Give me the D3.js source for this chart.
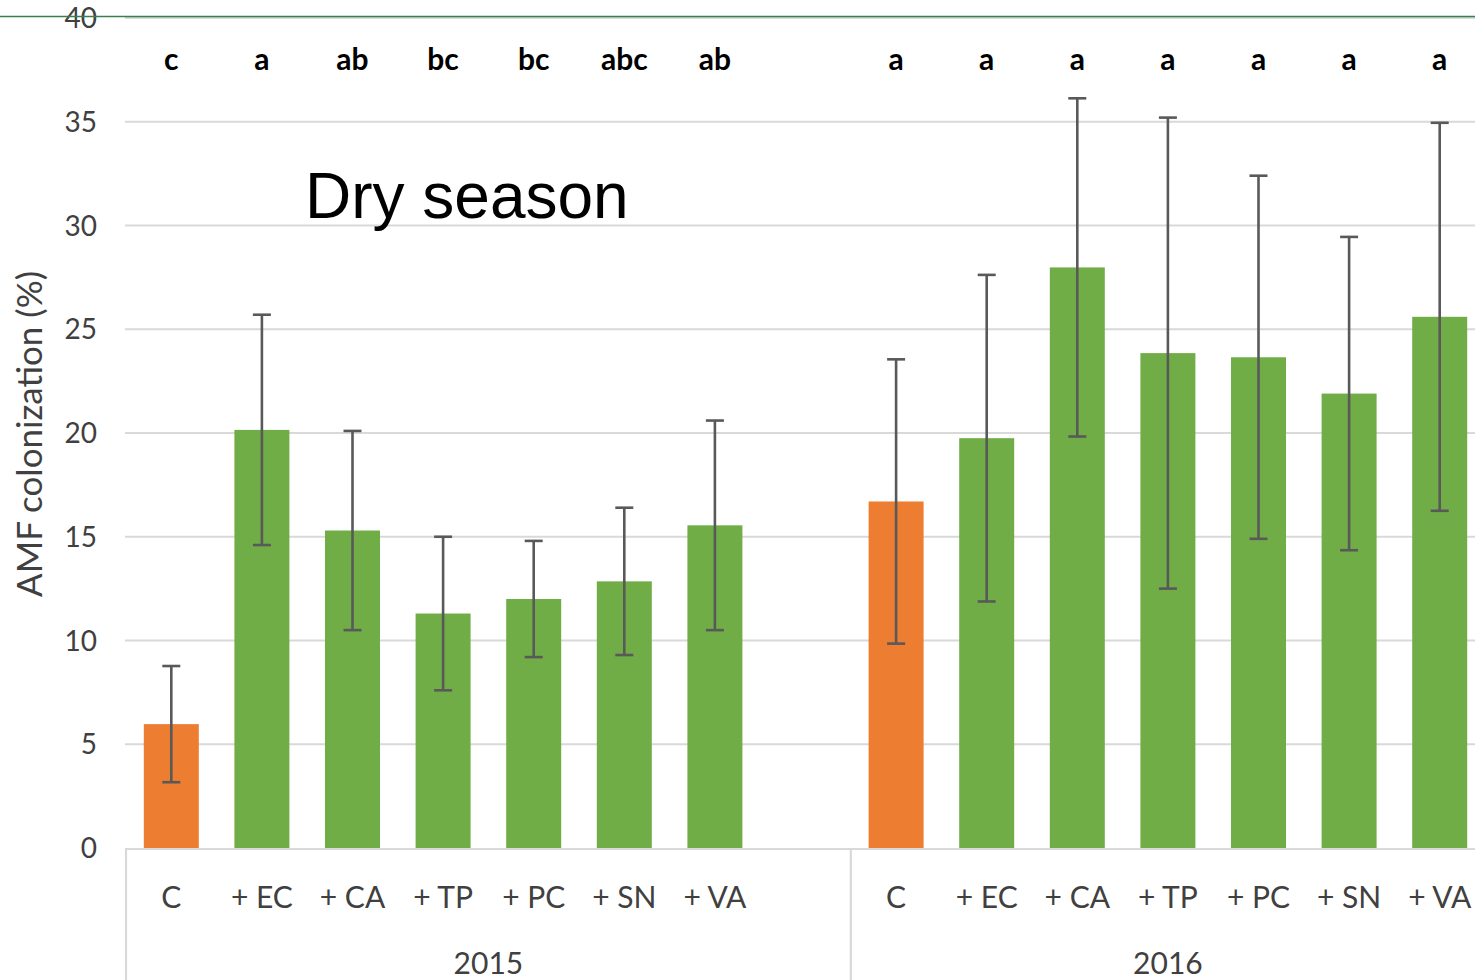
<!DOCTYPE html>
<html><head><meta charset="utf-8">
<script src="https://cdn.jsdelivr.net/npm/d3@7"></script>
<style>body{margin:0;background:#fff}svg{display:block}</style>
</head><body>
<script>
const treatments = ["C","+ EC","+ CA","+ TP","+ PC","+ SN","+ VA"];
const years = ["2015","2016"];
const values2015 = [5.97,20.15,15.3,11.3,12.0,12.85,15.55];
const errors2015 = [2.8,5.55,4.8,3.7,2.8,3.55,5.05];
const letters2015 = ["c","a","ab","bc","bc","abc","ab"];
const values2016 = [16.7,19.75,27.98,23.85,23.65,21.9,25.6];
const errors2016 = [6.85,7.87,8.15,11.35,8.75,7.55,9.35];
const letters2016 = ["a","a","a","a","a","a","a"];
const yTicks = [0,5,10,15,20,25,30,35,40];
const chartLabel = "Dry season";
const yTitle = "AMF colonization (%)";

const W = 1475, H = 980;
const svg = d3.select("body").append("svg").attr("width", W).attr("height", H);

// slots: 2015 has 8 slots (last empty), 2016 has 7
const slots = [];
treatments.forEach((t,i)=>slots.push({key:"2015-"+i, year:"2015", t, v:values2015[i], e:errors2015[i], l:letters2015[i], ctrl:i===0}));
slots.push({key:"2015-gap", year:"2015", t:"", v:null});
treatments.forEach((t,i)=>slots.push({key:"2016-"+i, year:"2016", t, v:values2016[i], e:errors2016[i], l:letters2016[i], ctrl:i===0}));

const x0 = 126, step = 90.6;
const x = d3.scaleBand().domain(slots.map(d=>d.key))
  .range([x0, x0 + step*slots.length]).paddingInner(0.393).paddingOuter(0.1965);
const y = d3.scaleLinear().domain([0,40]).range([848,18]);

// gridlines
svg.append("g").selectAll("line").data(yTicks.filter(d=>d>0)).join("line")
  .attr("x1",125).attr("x2",W).attr("y1",d=>y(d)).attr("y2",d=>y(d))
  .attr("stroke","#d9d9d9").attr("stroke-width",2.2);

// y tick labels
const yAxis = d3.axisLeft(y).tickValues(yTicks).tickSize(0).tickPadding(0);
const ya = svg.append("g").attr("transform","translate(97,0)").call(yAxis);
ya.select(".domain").remove();
ya.selectAll("text").attr("font-family","Lato, sans-serif").attr("font-size",28)
  .attr("fill","#404040").attr("dy","0.34em");

// top green line
svg.append("line").attr("x1",0).attr("x2",W).attr("y1",16.5).attr("y2",16.5)
  .attr("stroke","#3b7d4f").attr("stroke-width",1.5);

const bars = slots.filter(d=>d.v!==null);
// bars
svg.append("g").selectAll("rect").data(bars).join("rect")
  .attr("x",d=>x(d.key)).attr("width",x.bandwidth())
  .attr("y",d=>y(d.v)).attr("height",d=>y(0)-y(d.v))
  .attr("fill",d=>d.ctrl?"#ED7D31":"#70AD47");

// error bars
const eb = svg.append("g").attr("stroke","#595959").attr("stroke-width",2.6);
bars.forEach(d=>{
  const cx = x(d.key)+x.bandwidth()/2;
  eb.append("line").attr("x1",cx).attr("x2",cx).attr("y1",y(d.v+d.e)).attr("y2",y(d.v-d.e));
  [d.v+d.e,d.v-d.e].forEach(v=>eb.append("line").attr("x1",cx-9).attr("x2",cx+9).attr("y1",y(v)).attr("y2",y(v)));
});

// significance letters
svg.append("g").selectAll("text").data(bars).join("text")
  .attr("x",d=>x(d.key)+x.bandwidth()/2).attr("y",70)
  .attr("text-anchor","middle").attr("font-family","Lato, sans-serif")
  .attr("font-weight","bold").attr("font-size",30).attr("fill","#000")
  .text(d=>d.l);

// x axis line and separators
svg.append("line").attr("x1",125).attr("x2",W).attr("y1",849).attr("y2",849)
  .attr("stroke","#d9d9d9").attr("stroke-width",2.2);
[x0, x0+step*8].forEach(sx=>svg.append("line").attr("x1",sx).attr("x2",sx)
  .attr("y1",848).attr("y2",H).attr("stroke","#d9d9d9").attr("stroke-width",2.2));

// category labels
svg.append("g").selectAll("text").data(bars).join("text")
  .attr("x",d=>x(d.key)+x.bandwidth()/2).attr("y",908)
  .attr("text-anchor","middle").attr("font-family","Lato, sans-serif")
  .attr("font-size",30).attr("fill","#404040").text(d=>d.t);

// year labels
const yearCenters = [x0 + step*4, x0 + step*8 + step*3.5];
years.forEach((yr,i)=>svg.append("text").attr("x",yearCenters[i]).attr("y",974)
  .attr("text-anchor","middle").attr("font-family","Lato, sans-serif")
  .attr("font-size",30).attr("fill","#404040").text(yr));

// chart label
svg.append("text").attr("x",305).attr("y",218).attr("font-family","'Liberation Sans', Arial, sans-serif")
  .attr("font-size",64).attr("fill","#000").text(chartLabel);

// y title
svg.append("text").attr("transform","translate(42,434) rotate(-90)")
  .attr("text-anchor","middle").attr("font-family","Lato, sans-serif")
  .attr("font-size",35).attr("fill","#404040").text(yTitle);
</script>
</body></html>
